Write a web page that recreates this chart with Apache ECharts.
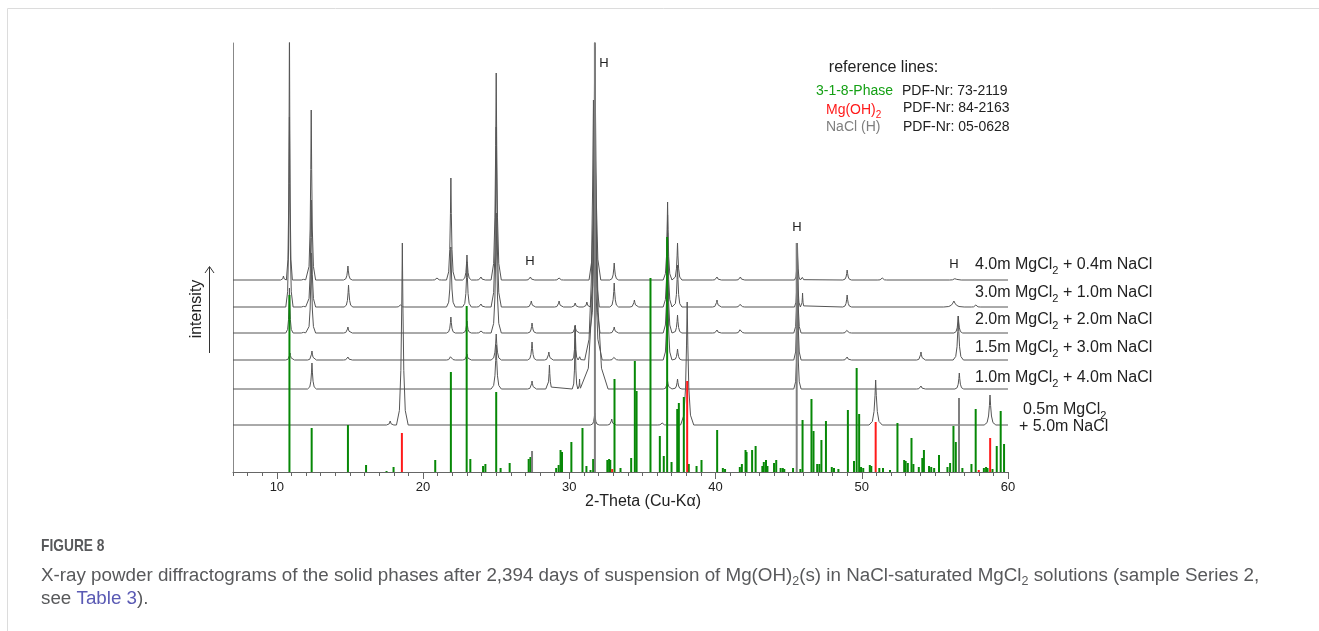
<!DOCTYPE html>
<html>
<head>
<meta charset="utf-8">
<script src="https://cdn.jsdelivr.net/npm/echarts/dist/echarts.min.js"></script>
<style>
html,body{margin:0;padding:0;background:#fff;}
#chart{width:1319px;height:631px;}
</style>
</head>
<body>
<div id="chart"></div>
<script>
// ---------- data (2-Theta in degrees, intensity in arbitrary units) ----------
const X_MIN = 7, X_MAX = 60;
const xLabelValues = [10, 20, 30, 40, 50, 60];

const traceNames = [
  '4.0m MgCl2 + 0.4m NaCl',
  '3.0m MgCl2 + 1.0m NaCl',
  '2.0m MgCl2 + 2.0m NaCl',
  '1.5m MgCl2 + 3.0m NaCl',
  '1.0m MgCl2 + 4.0m NaCl',
  '0.5m MgCl2 + 5.0m NaCl'
];
// vertical offset of each diffractogram (stacking)
const traceOffsets = [192, 165, 139, 112, 83, 47];

// peaks: [2-Theta, height above baseline, half base width]
const peaks40 = [[10.45,4,0.2],[10.86,260,0.2],[11.87,2,0.2],[12.35,170,0.3],[14.86,14,0.3],[20.95,2,0.3],[21.9,102,0.3],[23.0,25,0.3],[23.96,3,0.3],[25.0,207,0.35],[27.34,3,0.3],[29.3,2,0.3],[31.75,260,0.4],[33.07,17,0.3],[36.72,78,0.3],[37.4,37,0.3],[40.1,3,0.3],[41.7,3,0.3],[45.6,37,0.2],[45.95,4,0.15],[49.0,10,0.3],[51.4,2,0.3],[56.4,2,0.4]];
const peaks30 = [[10.86,190,0.25],[11.87,2,0.2],[12.35,107,0.3],[14.9,22,0.3],[18.45,2,0.3],[21.9,60,0.3],[23.0,45,0.3],[23.96,3,0.3],[25.0,180,0.35],[27.4,6,0.3],[29.3,6,0.3],[30.4,4,0.25],[31.2,5,0.25],[31.75,260,0.3],[33.07,24,0.3],[34.45,7,0.3],[36.72,92,0.3],[37.4,42,0.3],[40.1,7,0.3],[41.7,4,0.3],[45.6,60,0.2],[45.95,14,0.15],[49.0,12,0.3],[56.3,6,0.7],[57.8,2,0.3]];
const peaks20 = [[10.86,45,0.25],[11.87,2,0.2],[12.35,80,0.3],[14.86,6,0.3],[21.9,16,0.3],[23.0,12,0.3],[23.96,2,0.3],[25.0,120,0.35],[27.45,10,0.3],[30.4,7,0.3],[31.75,260,0.35],[33.07,6,0.3],[36.72,100,0.3],[37.4,18,0.3],[40.1,3,0.3],[41.7,5,0.3],[45.6,80,0.25],[49.0,4,0.3],[56.6,17,0.3]];
const peaks15 = [[10.9,7,0.3],[12.4,9,0.3],[14.86,3,0.3],[21.9,5,0.3],[23.0,6,0.3],[25.0,26,0.35],[27.45,18,0.3],[28.6,8,0.3],[30.4,35,0.2],[30.72,5,0.12],[31.65,260,0.6],[33.07,4,0.3],[36.72,100,0.3],[37.4,11,0.3],[45.6,100,0.25],[49.0,3,0.3],[54.05,8,0.3],[56.6,44,0.35]];
const peaks10 = [[12.4,26,0.3],[25.0,44,0.35],[27.45,8,0.3],[28.64,24,0.25],[30.4,63,0.2],[30.7,10,0.12],[31.75,260,0.9],[36.72,8,0.3],[37.4,10,0.3],[45.6,90,0.25],[54.05,3,0.3],[56.67,16,0.3]];
const peaks05 = [[17.75,4,0.25],[18.58,182,0.4],[31.74,12,0.3],[32.9,6,0.3],[36.35,2,0.3],[38.06,123,0.45],[50.95,45,0.45],[58.77,30,0.4]];
const tracePeaks = [peaks40, peaks30, peaks20, peaks15, peaks10, peaks05];

// reference lines: [2-Theta, relative intensity]
const ref318 = [[10.86,177],[12.38,44],[14.86,47],[16.1,7],[17.5,1],[17.98,5],[20.83,12],[21.9,100],[22.98,166],[23.23,13],[24.1,6],[24.26,8],[25.0,80],[25.3,4],[25.92,9],[27.22,13],[27.34,15],[29.1,4],[29.27,7],[29.4,22],[29.5,20],[30.14,30],[30.9,44],[31.17,6],[31.45,2],[31.63,13],[32.6,12],[32.72,13],[32.8,12],[33.09,93],[33.5,4],[34.23,14],[34.48,111],[34.6,81],[35.55,194],[36.19,36],[36.46,16],[36.69,235],[36.99,10],[37.38,63],[37.49,69],[37.83,75],[38.17,8],[38.7,6],[39.04,12],[40.11,42],[40.5,4],[40.65,3],[41.66,5],[41.8,8],[42.05,22],[42.12,20],[42.5,22],[42.74,26],[43.2,6],[43.3,10],[43.45,12],[43.55,6],[44.0,9],[44.15,12],[44.45,4],[44.6,4],[44.7,3],[45.3,4],[45.8,3],[45.95,52],[46.56,73],[46.7,41],[46.95,8],[47.1,8],[47.24,32],[47.55,51],[47.95,5],[48.1,4],[48.4,3],[49.05,62],[49.47,11],[49.65,104],[49.82,58],[49.95,5],[50.1,4],[50.55,7],[50.65,6],[51.2,4],[51.45,4],[51.93,2],[52.44,49],[52.9,12],[53.0,11],[53.15,9],[53.4,34],[53.53,8],[53.9,5],[54.14,14],[54.25,22],[54.6,6],[54.75,5],[54.95,4],[55.28,17],[55.86,5],[56.04,9],[56.27,46],[56.43,30],[56.88,4],[57.5,8],[57.79,63],[58.35,4],[58.5,5],[58.6,4],[58.94,3],[59.23,26],[59.5,61],[59.73,28]];
const refMgOH2 = [[18.55,39],[32.93,3],[38.06,91],[50.95,50],[58.0,2],[58.78,34]];
const refNaCl = [[27.45,21],[31.75,430],[45.55,229],[56.65,74]];

// ---------- build ----------
const PEAK_SHAPE = [[-1,0],[-0.5,0.08],[-0.25,0.3],[-0.1,0.65],[0,1],[0.1,0.65],[0.25,0.3],[0.5,0.08],[1,0]];
function buildTrace(offset, peaks) {
  const pts = [[X_MIN, offset]];
  peaks.forEach(([p, h, w]) => {
    PEAK_SHAPE.forEach(([dx, f]) => pts.push([p + dx * w, offset + f * h]));
  });
  pts.push([X_MAX, offset]);
  pts.sort((a, b) => a[0] - b[0]);
  return pts;
}

const GREEN = '#078807', LEG_GREEN = '#14a014', RED = '#ff1a1a', GREY = '#7f7f7f', TRACE = '#555555';
const ticksAll = [];
for (let t = X_MIN; t <= X_MAX; t++) ticksAll.push(t);

const series = tracePeaks.map((pk, i) => ({
  type: 'line',
  name: traceNames[i],
  xAxisIndex: 0,
  data: buildTrace(traceOffsets[i], pk),
  showSymbol: false,
  symbol: 'none',
  lineStyle: { color: TRACE, width: 1 },
  z: 2,
  silent: true,
  animation: false
}));

const barData = [];
ref318.forEach(d => barData.push({ value: d, itemStyle: { color: GREEN } }));
refMgOH2.forEach(d => barData.push({ value: d, itemStyle: { color: RED } }));
refNaCl.forEach(d => barData.push({ value: d, itemStyle: { color: GREY } }));
series.push({
  type: 'bar',
  xAxisIndex: 0,
  data: barData,
  barWidth: 2,
  z: 3,
  silent: true,
  animation: false
});

const FONT = '"Liberation Sans", Arial, sans-serif';
const subRich = (size, color) => ({
  a: { fontSize: size, fontFamily: FONT, fill: color, lineHeight: size + 6 },
  s: { fontSize: Math.round(size * 0.68), fontFamily: FONT, fill: color, lineHeight: Math.round(size * 0.68), verticalAlign: 'bottom' }
});

const graphic = [];
function txt(x, y, text, opts, extra) {
  graphic.push(Object.assign({
    type: 'text', x: x, y: y, silent: true,
    style: Object.assign({ text: text, fill: '#222', font: '14px ' + FONT, align: 'left', verticalAlign: 'middle' }, opts || {})
  }, extra || {}));
}
// frame lines of the figure panel
graphic.push({ type: 'line', silent: true, shape: { x1: 7.5, y1: 8.5, x2: 1319, y2: 8.5 }, style: { stroke: '#dcdcdc', lineWidth: 1 } });
graphic.push({ type: 'line', silent: true, shape: { x1: 7.5, y1: 8.5, x2: 7.5, y2: 631 }, style: { stroke: '#dcdcdc', lineWidth: 1 } });

// legend block
txt(883.5, 68, 'reference lines:', { font: '16px ' + FONT, align: 'center' });
txt(893, 91, '3-1-8-Phase', { fill: LEG_GREEN, align: 'right' });
txt(902, 91, 'PDF-Nr: 73-2119');
txt(826, 110, '{a|Mg(OH)}{s|2}', { rich: subRich(14, RED) });
txt(903, 108, 'PDF-Nr: 84-2163');
txt(826, 127, 'NaCl (H)', { fill: GREY });
txt(903, 127, 'PDF-Nr: 05-0628');

// NaCl markers
txt(604, 63, 'H', { font: '13px ' + FONT, align: 'center' });
txt(530, 261, 'H', { font: '13px ' + FONT, align: 'center' });
txt(797, 227, 'H', { font: '13px ' + FONT, align: 'center' });
txt(954, 264, 'H', { font: '13px ' + FONT, align: 'center' });

// trace labels
const labelY = [263, 291, 318, 346, 376];
for (let i = 0; i < 5; i++) {
  const parts = traceNames[i].split('MgCl2');
  txt(975, labelY[i] + 2, '{a|' + parts[0] + 'MgCl}{s|2}{a|' + parts[1] + '}', { rich: subRich(16, '#222') });
}
txt(1023, 410, '{a|0.5m MgCl}{s|2}', { rich: subRich(16, '#222') });
txt(1019, 427, '+ 5.0m NaCl', { font: '16px ' + FONT });

// axis titles
txt(643, 502, '2-Theta (Cu-Kα)', { font: '16px ' + FONT, align: 'center' });
graphic.push({ type: 'text', x: 197, y: 309, rotation: Math.PI / 2, silent: true,
  style: { text: 'intensity', font: '16px ' + FONT, fill: '#222', align: 'center', verticalAlign: 'middle' } });
graphic.push({ type: 'line', silent: true, shape: { x1: 209.5, y1: 353, x2: 209.5, y2: 267 }, style: { stroke: '#333', lineWidth: 1 } });
graphic.push({ type: 'polyline', silent: true, shape: { points: [[205, 273], [209.5, 266.5], [214, 273]] }, style: { stroke: '#333', lineWidth: 1, fill: null } });

// caption
const CAP_COLOR = '#58595b';
txt(41, 546, 'FIGURE 8', { font: 'bold 17px ' + FONT, fill: CAP_COLOR }, { scaleX: 0.81 });
const capRich = {
  a: { fontSize: 18.8, fontFamily: FONT, fill: CAP_COLOR, lineHeight: 24 },
  s: { fontSize: 12.5, fontFamily: FONT, fill: CAP_COLOR, lineHeight: 12, verticalAlign: 'bottom' },
  l: { fontSize: 18.8, fontFamily: FONT, fill: '#5a5ab4', lineHeight: 24 }
};
txt(41, 576, '{a|X-ray powder diffractograms of the solid phases after 2,394 days of suspension of Mg(OH)}{s|2}{a|(s) in NaCl-saturated MgCl}{s|2}{a| solutions (sample Series 2,}', { rich: capRich });
txt(41, 599, '{a|see }{l|Table 3}{a|).}', { rich: capRich });

const option = {
  animation: false,
  grid: { left: 233, right: 311, top: 43, bottom: 159, containLabel: false },
  xAxis: [
    {
      type: 'value', min: X_MIN, max: X_MAX, position: 'bottom',
      axisLine: { show: true, onZero: false, lineStyle: { color: '#666', width: 1 } },
      axisTick: { show: true, length: 4, customValues: ticksAll, lineStyle: { color: '#666' } },
      axisLabel: { show: true, customValues: xLabelValues, fontSize: 13, fontFamily: FONT, color: '#222', margin: 9 },
      splitLine: { show: false }
    },
    {
      type: 'value', min: X_MIN, max: X_MAX, position: 'bottom',
      axisLine: { show: false },
      axisTick: { show: true, length: 7, customValues: xLabelValues, lineStyle: { color: '#666' } },
      axisLabel: { show: false },
      splitLine: { show: false }
    }
  ],
  yAxis: {
    type: 'value', min: 0, max: 429,
    axisLine: { show: true, lineStyle: { color: '#888', width: 1 } },
    axisTick: { show: false }, axisLabel: { show: false }, splitLine: { show: false }
  },
  series: series,
  graphic: graphic
};

const chart = echarts.init(document.getElementById('chart'), null, { renderer: 'canvas' });
chart.setOption(option);
</script>
</body>
</html>
